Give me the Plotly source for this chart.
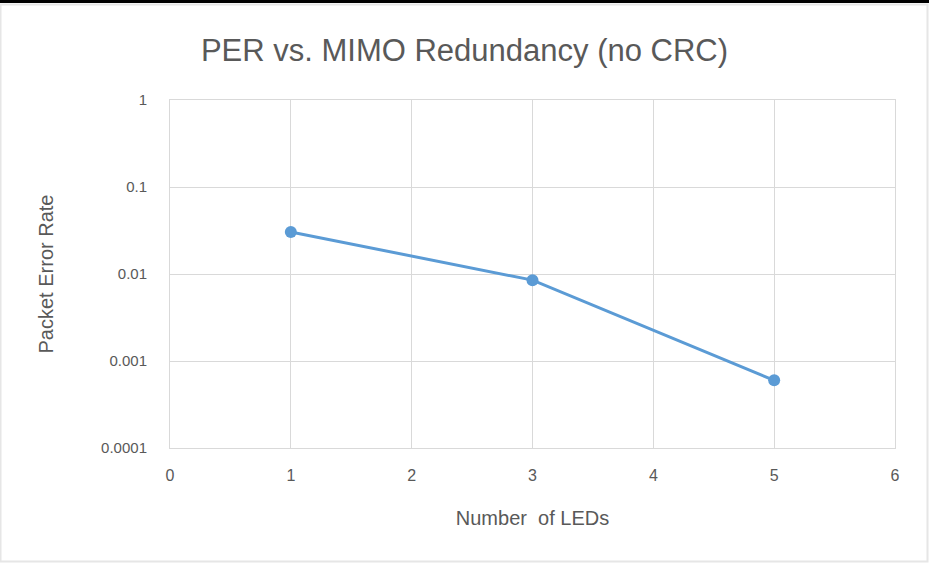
import plotly.graph_objects as go

leds = [1, 3, 5]
per = [0.0304, 0.0085, 0.0006]
y_tickvals = [0.0001, 0.001, 0.01, 0.1, 1]
y_ticktext = ["0.0001", "0.001", "0.01", "0.1", "1"]
x_tickvals = [0, 1, 2, 3, 4, 5, 6]

W, H = 929, 563
L, R, T, B = 170, 34, 100, 115
pw, ph = W - L - R, H - T - B

def px(x):
    return (x - L) / pw

def py(y):
    return 1 - (y - T) / ph

fig = go.Figure()
fig.add_trace(go.Scatter(
    x=leds, y=per, mode="lines+markers",
    line=dict(color="#5b9bd5", width=3),
    marker=dict(color="#5b9bd5", size=12),
    showlegend=False,
))

fnt = "Liberation Sans, Arial, sans-serif"
fig.update_layout(
    width=W, height=H,
    margin=dict(l=L, r=R, t=T, b=B),
    paper_bgcolor="white", plot_bgcolor="white",
    modebar=dict(bgcolor="rgba(0,0,0,0)", color="rgba(0,0,0,0)", activecolor="rgba(0,0,0,0)"),
    title=dict(text="PER vs. MIMO Redundancy (no CRC)", x=(199 + 730) / 2 / W, xanchor="center",
               y=1 - 50 / H, yanchor="middle",
               font=dict(family=fnt, size=31, color="#595959")),
    xaxis=dict(range=[0, 6], tickvals=x_tickvals, showgrid=True, gridcolor="#d9d9d9", gridwidth=1,
               zeroline=False, showline=True, linecolor="#d9d9d9", mirror=True,
               ticks="outside", ticklen=13, tickcolor="rgba(0,0,0,0)",
               tickfont=dict(family=fnt, size=16, color="#595959"),
               title=dict(text="Number  of LEDs", standoff=27,
                          font=dict(family=fnt, size=20, color="#595959"))),
    yaxis=dict(type="log", range=[-4, 0], tickvals=y_tickvals, ticktext=y_ticktext,
               showgrid=True, gridcolor="#d9d9d9", gridwidth=1,
               zeroline=False, showline=True, linecolor="#d9d9d9", mirror=True,
               ticks="outside", ticklen=19, tickcolor="rgba(0,0,0,0)",
               tickfont=dict(family=fnt, size=15, color="#595959"),
               title=dict(text="Packet Error Rate", standoff=42,
                          font=dict(family=fnt, size=20, color="#595959"))),
)

# outer frame
fig.add_shape(type="rect", xref="paper", yref="paper",
              x0=px(0.5), x1=px(W - 1.5), y0=py(H - 1.5), y1=py(4.5),
              line=dict(color="#e6e6e6", width=2), fillcolor="rgba(0,0,0,0)", layer="below")
# dark top edge
fig.add_shape(type="rect", xref="paper", yref="paper",
              x0=px(0), x1=px(W), y0=py(3), y1=py(0),
              line=dict(width=0), fillcolor="black")

post = (
    "document.body.style.margin='0';document.body.style.overflow='hidden';"
    "var s=document.createElement('style');"
    "s.textContent='.modebar-container{display:none !important;}';"
    "document.head.appendChild(s);"
)
fig.write_html("out.html", post_script=post)
